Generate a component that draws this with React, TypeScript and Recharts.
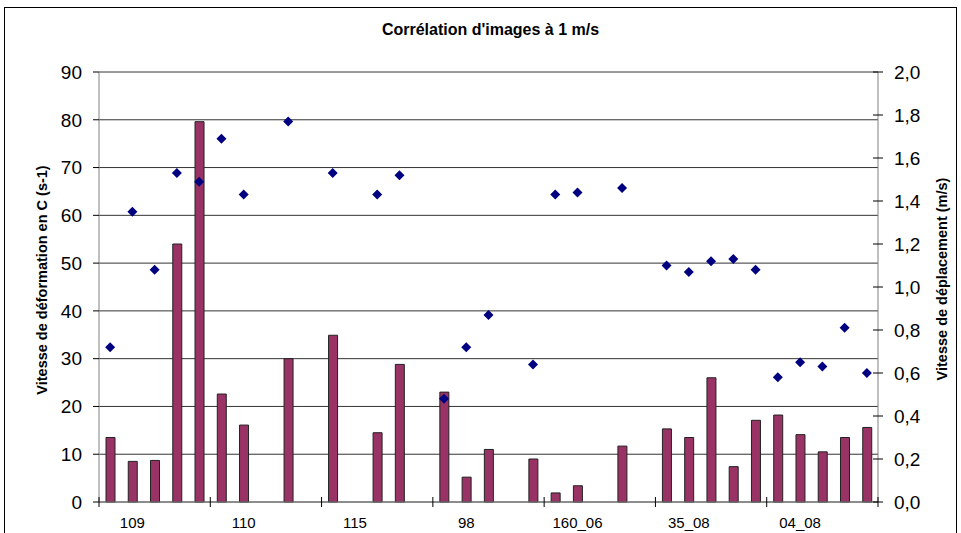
import { ComposedChart, Bar, Scatter, XAxis, YAxis, CartesianGrid } from 'recharts'

// one slot per sample, 5 slots per specimen group
const groups = ['109', '110', '115', '98', '160_06', '35_08', '04_08']
const slotsPerGroup = 5

// left axis: strain rate in C (s-1)
const strainRate: (number | null)[] = [
  13.5, 8.5, 8.7, 54, 79.6,
  22.6, 16.1, null, 30, null,
  34.9, null, 14.5, 28.8, null,
  23, 5.2, 11, null, 9,
  1.9, 3.4, null, 11.7, null,
  15.3, 13.5, 26, 7.4, 17.1,
  18.2, 14.1, 10.5, 13.5, 15.6,
]

// right axis: displacement speed (m/s)
const speed: (number | null)[] = [
  0.72, 1.35, 1.08, 1.53, 1.49,
  1.69, 1.43, null, 1.77, null,
  1.53, null, 1.43, 1.52, null,
  0.48, 0.72, 0.87, null, 0.64,
  1.43, 1.44, null, 1.46, null,
  1.1, 1.07, 1.12, 1.13, 1.08,
  0.58, 0.65, 0.63, 0.81, 0.6,
]

const leftTicks = [0, 10, 20, 30, 40, 50, 60, 70, 80, 90]
const rightTicks = [0, 0.2, 0.4, 0.6, 0.8, 1, 1.2, 1.4, 1.6, 1.8, 2]

const nSlots = groups.length * slotsPerGroup
const rows = strainRate
  .map((v, i) => ({ x: i + 0.5, strain: v, speed: speed[i] }))
  .filter((r) => r.strain != null)

const boundaryTicks = groups.map((_, k) => k * slotsPerGroup).concat(nSlots)
const labelTicks = groups.map((_, k) => k * slotsPerGroup + 1.5)
const xTicks = [...boundaryTicks, ...labelTicks].sort((a, b) => a - b)

const FONT = '"Liberation Sans", Arial, sans-serif'

function XTick(props: any) {
  const { x, y, payload } = props
  const v = payload.value as number
  if (v % slotsPerGroup === 0) {
    return <line x1={x} x2={x} y1={y - 5} y2={y + 5} stroke="#000" />
  }
  return (
    <text x={x} y={y + 21} dy="0.35em" textAnchor="middle" fontSize={15} fill="#000" fontFamily={FONT}>
      {groups[Math.floor(v / slotsPerGroup)]}
    </text>
  )
}

function RightTick(props: any) {
  const { x, y, payload } = props
  return (
    <g>
      <line x1={x - 5} x2={x + 5} y1={y} y2={y} stroke="#000" />
      <text x={x + 16} y={y} dy="0.355em" textAnchor="start" fontSize={19} fill="#000" fontFamily={FONT}>
        {(payload.value as number).toFixed(1).replace('.', ',')}
      </text>
    </g>
  )
}

function Diamond(props: any) {
  const { cx, cy } = props
  if (cx == null || cy == null) return null
  const r = 5
  return <polygon points={`${cx},${cy - r} ${cx + r},${cy} ${cx},${cy + r} ${cx - r},${cy}`} fill="#000080" />
}

export default function App() {
  return (
    <div style={{ position: 'absolute', left: 0, top: 0, width: 961, height: 533, overflow: 'hidden', background: '#fff', fontFamily: FONT }}>
      <div style={{ position: 'absolute', left: 4, top: 7, width: 951, height: 600, border: '1px solid #000' }} />
      <ComposedChart
        width={961}
        height={533}
        data={rows}
        margin={{ top: 72, right: 0, bottom: 0, left: 0 }}
        style={{ position: 'absolute', left: 0, top: 0 }}
      >
        <CartesianGrid yAxisId="left" vertical={false} stroke="#333" />
        <XAxis
          dataKey="x"
          type="number"
          domain={[0, nSlots]}
          ticks={xTicks}
          interval={0}
          height={31}
          tickSize={0}
          tickMargin={0}
          tickLine={false}
          axisLine={{ stroke: '#808080' }}
          tick={<XTick />}
        />
        <YAxis
          yAxisId="left"
          orientation="left"
          width={99}
          domain={[0, 90]}
          ticks={leftTicks}
          interval={0}
          tickSize={6}
          tickMargin={11}
          axisLine={{ stroke: '#808080' }}
          tickLine={{ stroke: '#000' }}
          tick={{ fill: '#000', fontSize: 19, fontFamily: FONT }}
        />
        <YAxis
          yAxisId="right"
          orientation="right"
          width={83}
          domain={[0, 2]}
          ticks={rightTicks}
          interval={0}
          tickSize={0}
          tickMargin={0}
          tickLine={false}
          axisLine={{ stroke: '#808080' }}
          tick={<RightTick />}
        />
        <Bar
          yAxisId="left"
          dataKey="strain"
          barSize={9}
          fill="#993366"
          stroke="#222"
          strokeWidth={1}
          isAnimationActive={false}
        />
        <Scatter
          yAxisId="right"
          dataKey="speed"
          shape={<Diamond />}
          isAnimationActive={false}
        />
      </ComposedChart>
      <div style={{ position: 'absolute', left: 0, width: 961, top: 21, textAlign: 'center', fontSize: 16, fontWeight: 'bold', color: '#000', paddingLeft: 20, boxSizing: 'border-box' }}>
        Corrélation d'images à 1 m/s
      </div>
      <div style={{ position: 'absolute', left: 42, top: 280, transform: 'translate(-50%, -50%) rotate(-90deg)', whiteSpace: 'nowrap', fontSize: 14.5, fontWeight: 'bold', color: '#000' }}>
        Vitesse de déformation en C (s-1)
      </div>
      <div style={{ position: 'absolute', left: 942, top: 279, transform: 'translate(-50%, -50%) rotate(-90deg)', whiteSpace: 'nowrap', fontSize: 14.5, fontWeight: 'bold', color: '#000' }}>
        Vitesse de déplacement (m/s)
      </div>
    </div>
  )
}
